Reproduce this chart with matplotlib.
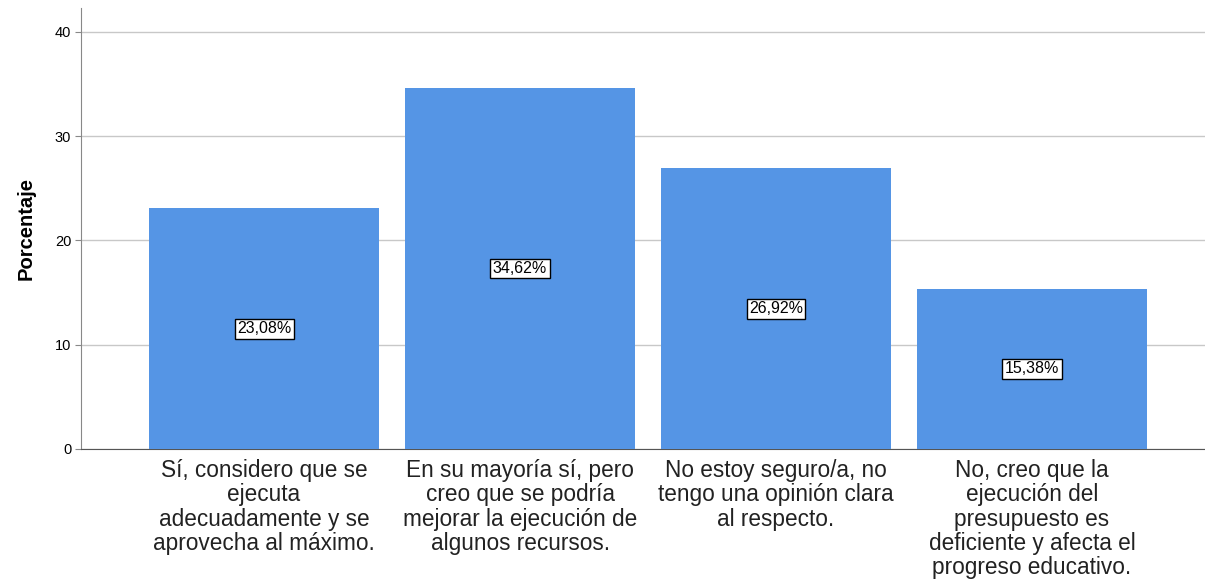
import matplotlib
matplotlib.use("Agg")
import matplotlib.pyplot as plt

categories = [
    "Sí, considero que se\nejecuta\nadecuadamente y se\naprovecha al máximo.",
    "En su mayoría sí, pero\ncreo que se podría\nmejorar la ejecución de\nalgunos recursos.",
    "No estoy seguro/a, no\ntengo una opinión clara\nal respecto.",
    "No, creo que la\nejecución del\npresupuesto es\ndeficiente y afecta el\nprogreso educativo.",
]
values = [23.08, 34.62, 26.92, 15.38]
value_labels = ["23,08%", "34,62%", "26,92%", "15,38%"]
yticks = [0, 10, 20, 30, 40]

plt.rcParams['font.family'] = ['Liberation Sans', 'DejaVu Sans']

fig = plt.figure(figsize=(12.05, 5.79), dpi=100)
ax = fig.add_axes([81/1205, 1-449/579, 1-81/1205, (449-8)/579])

x = list(range(len(values)))
ax.bar(x, values, width=230/256, color="#5595E5", zorder=3)

for xi, v, lab in zip(x, values, value_labels):
    ax.text(xi, v/2, lab, ha="center", va="center", fontsize=11.5, color="black", zorder=4,
            bbox=dict(boxstyle="square,pad=0.15", facecolor="white", edgecolor="black", linewidth=1))

ax.set_xlim(-0.715, 3.676)
ax.set_ylim(0, 42.3)
ax.set_yticks(yticks)
ax.set_yticklabels([str(t) for t in yticks], fontsize=10.5)
ax.yaxis.grid(True, color="#c8c8c8", linewidth=1, zorder=0)
ax.set_xticks(x)
ax.set_xticklabels(categories, fontsize=16.3, color="#222222", linespacing=1.08)
ax.tick_params(axis="x", length=0, pad=7)
ax.tick_params(axis="y", length=4, color="#888888", pad=3)

for s in ["top", "right"]:
    ax.spines[s].set_visible(False)
ax.spines["left"].set_color("#888888")
ax.spines["bottom"].set_color("#555555")

ax.set_ylabel("Porcentaje", fontsize=14.5, fontweight="bold", labelpad=14)

fig.savefig("out.png", dpi=100)
